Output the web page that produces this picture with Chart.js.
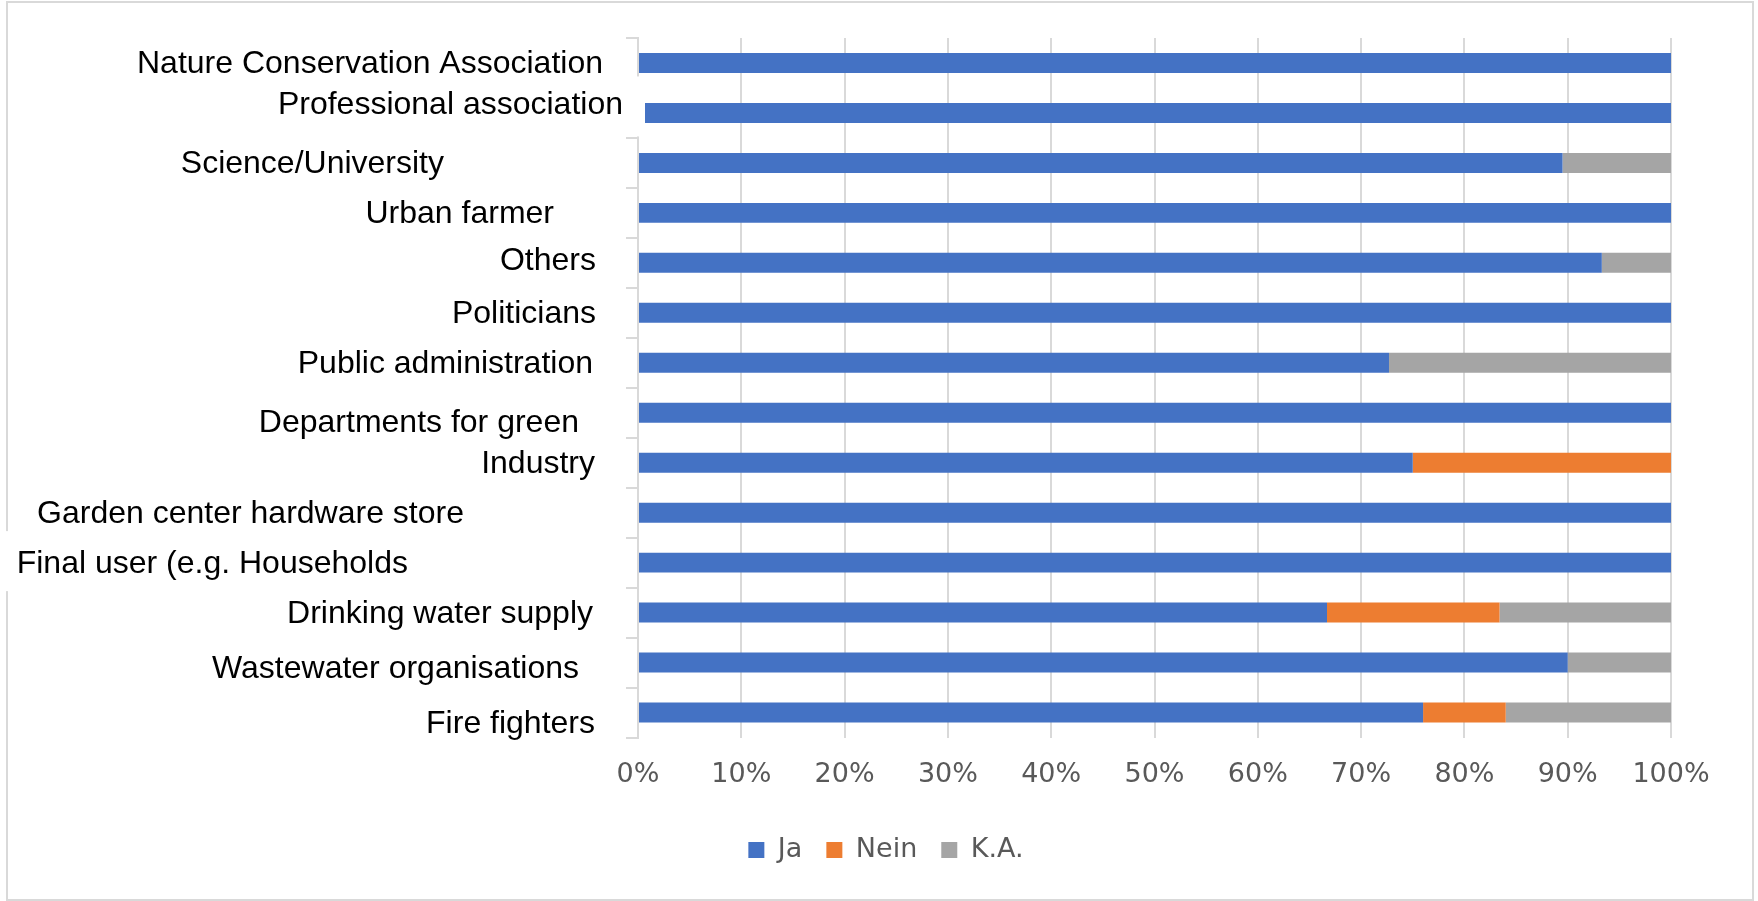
<!DOCTYPE html>
<html>
<head>
<meta charset="utf-8">
<title>Stakeholders – Ja / Nein / K.A.</title>
<script src="https://cdn.jsdelivr.net/npm/chart.js@4.4.1/dist/chart.umd.min.js"></script>
<style>
  html, body { margin: 0; padding: 0; background: #fff; }
  #wrap { position: relative; width: 1758px; height: 901px; }
</style>
</head>
<body>
<div id="wrap"><canvas id="chart"></canvas></div>
<script>
// categories, top to bottom
const categories = [
  'Nature Conservation Association',
  'Professional association',
  'Science/University',
  'Urban farmer',
  'Others',
  'Politicians',
  'Public administration',
  'Departments for green',
  'Industry',
  'Garden center hardware store',
  'Final user (e.g. Households',
  'Drinking water supply',
  'Wastewater organisations',
  'Fire fighters'
];

// shares in percent
const ja   = [100, 100, 89.5, 100, 93.3, 100, 72.7, 100, 75, 100, 100, 66.7, 90, 76];
const nein = [0,   0,   0,    0,   0,    0,   0,    0,   25, 0,   0,   16.7, 0,  8];
const ka   = [0,   0,   10.5, 0,   6.7,  0,   27.3, 0,   0,  0,   0,   16.6, 10, 16];

const seriesNames = ['Ja', 'Nein', 'K.A.'];
const xTickLabels = ['0%', '10%', '20%', '30%', '40%', '50%', '60%', '70%', '80%', '90%', '100%'];

// the category labels were pasted over the chart, so they sit a bit irregularly
const labelGap   = [35, 15, 194, 84, 42, 42, 45, 59, 43, 174, 230, 45, 59, 43]; // px left of axis
const labelShift = [0, -9, 0, 0, -3, 0, 0, 9, 0, 0, 0, 0, 5, 10];                // px vs bar centre

const colors = ['#4472C4', '#ED7D31', '#A5A5A5'];
const gridColor = '#D9D9D9';

const overlay = {
  id: 'overlay',
  beforeDraw(chart) {
    const ctx = chart.ctx;
    ctx.save();
    ctx.fillStyle = '#fff';
    ctx.fillRect(0, 0, chart.width, chart.height);
    ctx.strokeStyle = gridColor;
    ctx.lineWidth = 2;
    ctx.strokeRect(7, 2, chart.width - 12, chart.height - 3);
    ctx.restore();
  },
  afterDraw(chart) {
    const ctx = chart.ctx;
    const yScale = chart.scales.y;
    const axisX = chart.chartArea.left;
    ctx.save();
    ctx.font = '32px "Liberation Sans", Arial, sans-serif';
    ctx.textAlign = 'right';
    ctx.textBaseline = 'middle';
    categories.forEach((name, i) => {
      const right = axisX - labelGap[i];
      const cy = yScale.getPixelForValue(i) + labelShift[i] + 1.5;
      const w = ctx.measureText(name).width;
      // white paste-over boxes that show where they cover something
      if (i === 1) {
        ctx.fillStyle = '#fff';
        ctx.fillRect(right - w - 10, cy - 29, axisX + 7 - (right - w - 10), 60);
      }
      if (i === 10) {
        ctx.fillStyle = '#fff';
        ctx.fillRect(0, cy - 33, right + 192, 60);
      }
      ctx.fillStyle = '#000';
      ctx.fillText(name, right, cy);
    });
    ctx.restore();
  }
};

const ctx = document.getElementById('chart').getContext('2d');
new Chart(ctx, {
  type: 'bar',
  data: {
    labels: categories,
    datasets: [
      { label: seriesNames[0], data: ja,   backgroundColor: colors[0] },
      { label: seriesNames[1], data: nein, backgroundColor: colors[1] },
      { label: seriesNames[2], data: ka,   backgroundColor: colors[2] }
    ]
  },
  options: {
    indexAxis: 'y',
    responsive: true,
    maintainAspectRatio: false,
    animation: false,
    datasets: { bar: { categoryPercentage: 1, barPercentage: 0.4, borderWidth: 0 } },
    layout: { padding: { left: 101, right: 87, top: 38, bottom: 27.5 } },
    plugins: {
      tooltip: { enabled: false },
      legend: {
        position: 'bottom',
        labels: {
          boxWidth: 16, boxHeight: 16, padding: 24,
          color: '#595959',
          font: { family: 'DejaVu Sans', size: 27 }
        }
      }
    },
    scales: {
      x: {
        stacked: true,
        min: 0, max: 100,
        afterFit: s => { s.height = 75; },
        border: { display: false },
        grid: { color: gridColor, lineWidth: 2, drawTicks: false },
        ticks: {
          stepSize: 10,
          padding: 21,
          color: '#595959',
          font: { family: 'DejaVu Sans', size: 27 },
          callback: (v, i) => xTickLabels[i]
        }
      },
      y: {
        stacked: true,
        afterFit: s => { s.width = 537; },
        border: { display: true, color: gridColor, width: 2 },
        grid: { offset: true, drawOnChartArea: false, drawTicks: true, tickLength: 12, color: gridColor, lineWidth: 2 },
        ticks: { display: false }
      }
    }
  },
  plugins: [overlay]
});
</script>
</body>
</html>
